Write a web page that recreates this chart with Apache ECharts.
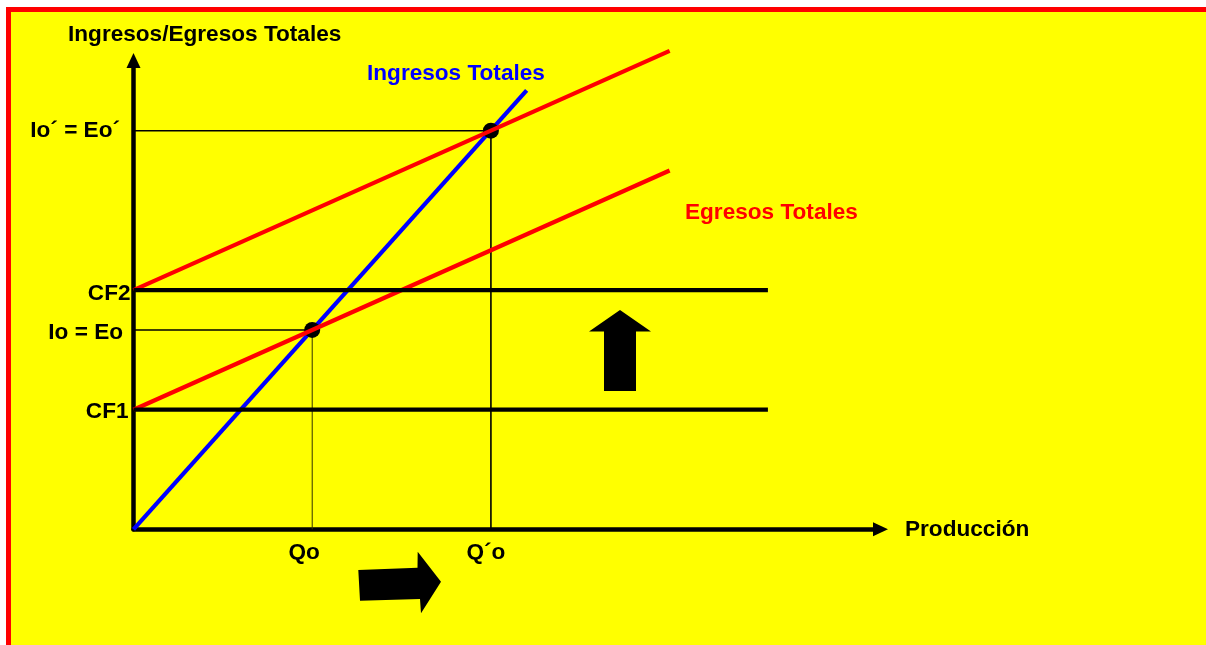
<!DOCTYPE html>
<html>
<head>
<meta charset="utf-8">
<title>Punto de equilibrio</title>
<script src="https://cdn.jsdelivr.net/npm/echarts@6/dist/echarts.min.js"></script>
<style>
  html, body { margin: 0; padding: 0; background: #ffffff; }
  .wrap { position: relative; width: 1206px; height: 645px; overflow: hidden; }
  /* marco rojo con fondo amarillo (sale por la derecha y por abajo) */
  .marco {
    position: absolute; left: 6px; top: 7px; width: 1300px; height: 700px;
    background: #ffff00; border-left: 5px solid #ff0000; border-top: 5px solid #ff0000;
  }
  #main { position: absolute; left: 0; top: 0; width: 1206px; height: 645px; }
</style>
</head>
<body>
<div class="wrap">
  <div class="marco"></div>
  <div id="main"></div>
</div>
<script>
// ingresos totales (recta desde el origen)
var ingresosTotales = [[0, 0], [2.2, 3.67]];
// egresos totales con costo fijo CF1 y con CF2
var egresosCF1 = [[0, 1], [3, 3]];
var egresosCF2 = [[0, 2], [3, 4]];
// costos fijos
var costoFijo1 = [[0, 1], [3.55, 1]];
var costoFijo2 = [[0, 2], [3.55, 2]];
// puntos de equilibrio
var equilibrios = [[1, 1.667], [2, 3.333]];
// lineas guia
var guiaIoEo = [[0, 1.667], [1, 1.667]];
var guiaQo = [[1, 1.667], [1, 0]];
var guiaIoEo2 = [[0, 3.333], [2, 3.333]];
var guiaQo2 = [[2, 3.333], [2, 0]];
// etiquetas de ejes
var xTickValues = [1, 2];
var xTickLabels = ["Qo", "Q´o"];
var yTickValues = [1, 1.667, 2, 3.333];
var yTickLabels = ["CF1", "Io = Eo", "CF2", "Io´ = Eo´"];

var fuente = "'Liberation Sans', Arial, sans-serif";
var tam = 22.6;
var myChart = echarts.init(document.getElementById("main"));

function idx(values, v) {
  for (var i = 0; i < values.length; i++) {
    if (Math.abs(values[i] - v) < 1e-6) return i;
  }
  return -1;
}

function linea(data, color, width, z) {
  return {
    type: "line",
    data: data,
    symbol: "none",
    z: z,
    clip: false,
    silent: true,
    lineStyle: { color: color, width: width },
  };
}

var txt = { fontFamily: fuente, fontWeight: "bold", fontSize: tam, color: "#000" };

myChart.setOption({
  animation: false,
  backgroundColor: "transparent",
  grid: { left: 133.5, right: 325.5, top: 60.5, bottom: 115.7 },
  xAxis: {
    type: "value",
    min: 0,
    max: 4.18,
    splitLine: { show: false },
    axisTick: { show: false },
    axisLine: {
      show: true,
      onZero: false,
      symbol: ["none", "triangle"],
      symbolSize: [14, 15],
      lineStyle: { color: "#000", width: 4.5 },
    },
    name: "Producción",
    nameLocation: "end",
    nameGap: 24.5,
    nameTextStyle: {
      fontFamily: fuente, fontWeight: "bold", fontSize: tam, color: "#000",
      verticalAlign: "middle", padding: [7, 0, 0, 0],
    },
    axisLabel: {
      customValues: xTickValues,
      margin: 12,
      formatter: function (v) {
        var i = idx(xTickValues, v);
        return "{x" + i + "|" + xTickLabels[i] + "}";
      },
      rich: {
        x0: Object.assign({ padding: [0, 16, 0, 0] }, txt),
        x1: Object.assign({ padding: [0, 10, 0, 0] }, txt),
      },
    },
  },
  yAxis: {
    type: "value",
    min: 0,
    max: 3.92,
    splitLine: { show: false },
    axisTick: { show: false },
    axisLine: {
      show: true,
      onZero: false,
      symbol: ["none", "triangle"],
      symbolSize: [14, 15],
      lineStyle: { color: "#000", width: 4.5 },
    },
    axisLabel: {
      customValues: yTickValues,
      margin: 3,
      formatter: function (v) {
        var i = idx(yTickValues, v);
        return "{y" + i + "|" + yTickLabels[i] + "}";
      },
      rich: {
        y0: Object.assign({ padding: [4, 2, 0, 0] }, txt),
        y1: Object.assign({ padding: [5, 7.5, 0, 0] }, txt),
        y2: Object.assign({ padding: [8, 0, 0, 0] }, txt),
        y3: Object.assign({ padding: [1, 10.5, 0, 0] }, txt),
      },
    },
  },
  graphic: [
    { type: "text", x: 68, y: 34.5, style: { text: "Ingresos/Egresos Totales", font: "bold " + tam + "px " + fuente, fill: "#000", verticalAlign: "middle" } },
    { type: "text", x: 367, y: 73.5, style: { text: "Ingresos Totales", font: "bold " + tam + "px " + fuente, fill: "#0000ff", verticalAlign: "middle" } },
    { type: "text", x: 685, y: 212.5, style: { text: "Egresos Totales", font: "bold " + tam + "px " + fuente, fill: "#ff0000", verticalAlign: "middle" } },
    // flecha hacia arriba (desplazamiento del costo fijo)
    {
      type: "polygon",
      shape: { points: [[620, 310], [651, 331.5], [636, 331.5], [636, 391], [604, 391], [604, 331.5], [589, 331.5]] },
      style: { fill: "#000" },
    },
    // flecha hacia la derecha (desplazamiento de la produccion)
    {
      type: "polygon",
      shape: { points: [[358.3, 570], [417.5, 567.7], [417.7, 551.7], [441, 581.7], [421, 613.3], [420, 599], [360, 600.7]] },
      style: { fill: "#000" },
    },
  ],
  series: [
    linea(guiaIoEo, "#000", 1.5, 1),
    linea(guiaQo, "#333300", 1, 1),
    linea(guiaIoEo2, "#000", 1.5, 1),
    linea(guiaQo2, "#000", 1.6, 1),
    linea(ingresosTotales, "#0000ff", 4.2, 3),
    {
      type: "scatter",
      data: equilibrios,
      symbol: "circle",
      symbolSize: 16,
      z: 3.5,
      silent: true,
      itemStyle: { color: "#000", opacity: 1 },
    },
    linea(egresosCF1, "#ff0000", 4.2, 4),
    linea(egresosCF2, "#ff0000", 4.2, 4),
    linea(costoFijo1, "#000", 4.2, 5),
    linea(costoFijo2, "#000", 4.2, 5),
  ],
});
</script>
</body>
</html>
